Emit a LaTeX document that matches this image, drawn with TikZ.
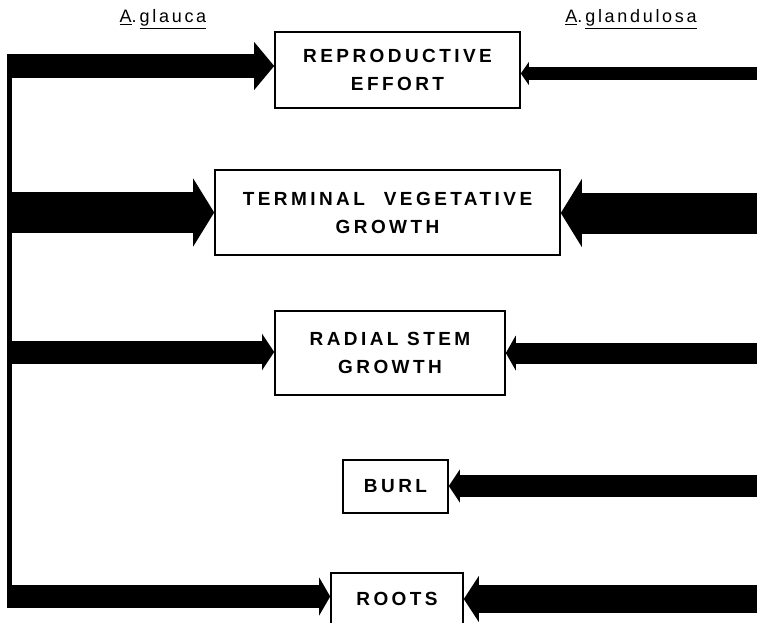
\documentclass[tikz,border=0pt]{standalone}
\usepackage{fontspec}
\setmainfont{Liberation Sans}
\usetikzlibrary{arrows.meta}

\begin{document}
\begin{tikzpicture}[x=1pt,y=-1pt,
 every node/.style={inner sep=0pt},
 part/.style={draw,line width=1.6pt,align=center,
  font=\fontsize{19}{28}\selectfont\bfseries\addfontfeature{LetterSpace=18}},
 heading/.style={font=\fontsize{18}{20}\selectfont\addfontfeature{LetterSpace=15}},
 feed/.style n args={3}{line width=#1,-{Triangle[width=#2,length=#3,line width=0pt]}}]
\useasboundingbox (0,0) rectangle (757,623);

\node[heading] (glauca) at (163,19) {\underline{A}.\,\underline{glauca}};
\node[heading] (glandulosa) at (631,19) {\underline{A}.\,\underline{glandulosa}};

\node[part,minimum width=245pt,minimum height=76pt] (repro) at (397.5,70) {REPRODUCTIVE\\EFFORT};
\node[part,minimum width=345pt,minimum height=85pt] (term) at (387.5,212.5) {TERMINAL\quad VEGETATIVE\\GROWTH};
\node[part,minimum width=230pt,minimum height=84pt] (radial) at (390,353) {RADIAL STEM\\GROWTH};
\node[part,minimum width=105pt,minimum height=53pt] (burl) at (395.5,486.5) {BURL};
\node[part,minimum width=132pt,minimum height=52pt,anchor=north] (roots) at (397,572) {ROOTS};

% glauca side
\coordinate (stem top) at (9.5,54);
\coordinate (stem bot) at (9.5,608);
\coordinate (ga1) at (7,66);
\coordinate (ga2) at (7,212.5);
\coordinate (ga3) at (7,352);
\coordinate (ga5) at (7,596.5);
\draw[line width=5pt] (stem top) -- (stem bot);
\draw[feed={24pt}{48pt}{20pt}] (ga1) -- (ga1 -| repro.west);
\draw[feed={41pt}{68pt}{21pt}] (ga2) -- (ga2 -| term.west);
\draw[feed={23pt}{36pt}{12pt}] (ga3) -- (ga3 -| radial.west);
\draw[feed={23pt}{38pt}{11pt}] (ga5) -- (ga5 -| roots.west);

% glandulosa side
\coordinate (gd1) at (757,73.5);
\coordinate (gd2) at (757,213);
\coordinate (gd3) at (757,353);
\coordinate (gd4) at (757,486);
\coordinate (gd5) at (757,599);
\draw[feed={13pt}{23pt}{8pt}] (gd1) -- (gd1 -| repro.east);
\draw[feed={41pt}{68pt}{21pt}] (gd2) -- (gd2 -| term.east);
\draw[feed={21pt}{35pt}{10pt}] (gd3) -- (gd3 -| radial.east);
\draw[feed={22pt}{33pt}{11pt}] (gd4) -- (gd4 -| burl.east);
\draw[feed={28pt}{46pt}{15pt}] (gd5) -- (gd5 -| roots.east);
\end{tikzpicture}
\end{document}
